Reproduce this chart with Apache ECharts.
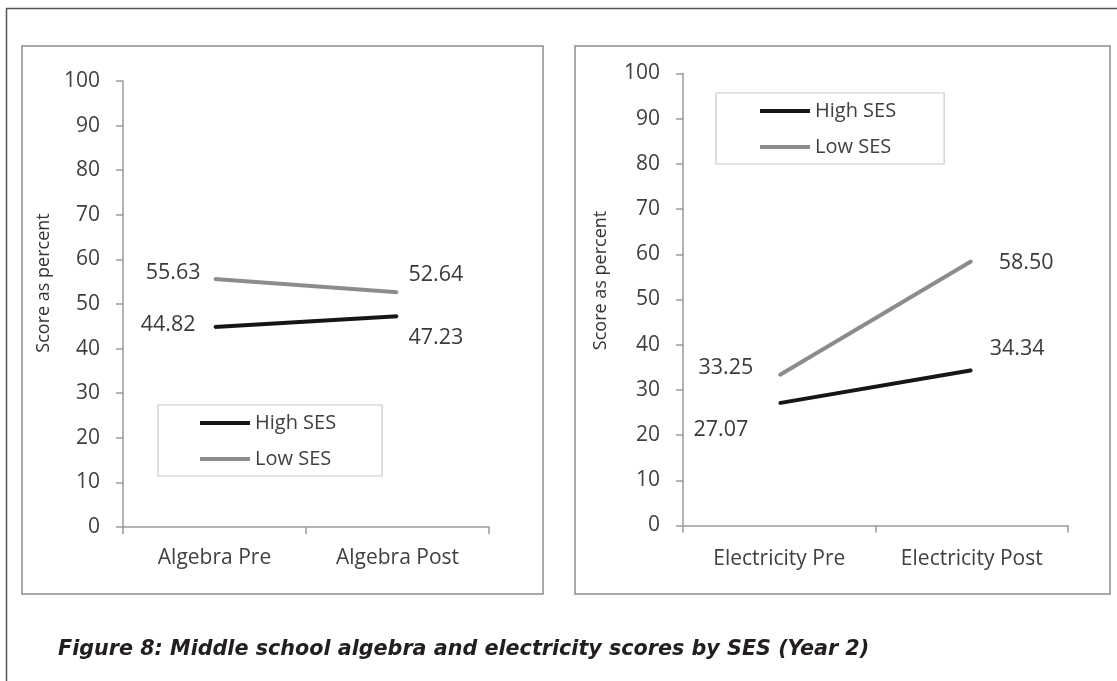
<!DOCTYPE html>
<html>
<head>
<meta charset="utf-8">
<script src="https://cdn.jsdelivr.net/npm/echarts@6/dist/echarts.min.js"></script>
<style>
html,body{margin:0;padding:0;background:#fff;}
#chart{width:1117px;height:681px;}
</style>
</head>
<body>
<div id="chart"></div>
<script>
// ---- data ----
const categoriesAlgebra = ['Algebra Pre', 'Algebra Post'];
const categoriesElectricity = ['Electricity Pre', 'Electricity Post'];
const seriesNames = ['High SES', 'Low SES'];
const algebraHigh = [44.82, 47.23];
const algebraLow = [55.63, 52.64];
const electricityHigh = [27.07, 34.34];
const electricityLow = [33.25, 58.50];
const yMin = 0, yMax = 100, yStep = 10;
const axisTitle = 'Score as percent';
const caption = 'Figure 8: Middle school algebra and electricity scores by SES (Year 2)';

// ---- label placement (style) ----
const placeAlgebraHigh = [['left', 18, -2], ['right', 10, 22]];
const placeAlgebraLow = [['left', 13, -6], ['right', 10, -17]];
const placeElecHigh = [['left', 30, 27], ['right', 17, -21]];
const placeElecLow = [['left', 25, -7], ['right', 26, 2]];

const FONT = 'Open Sans';
const HIGH_COLOR = '#161616';
const LOW_COLOR = '#8c8c8c';

function buildData(values, places) {
  return values.map((v, i) => ({
    value: v,
    label: {
      show: true,
      position: places[i][0],
      distance: places[i][1],
      offset: [0, places[i][2]],
      formatter: (p) => Number(p.value).toFixed(2),
      fontFamily: FONT,
      fontSize: 21.5,
      color: '#3a3a3a'
    }
  }));
}

function lineSeries(name, values, places, idx, color) {
  return {
    name: name,
    type: 'line',
    xAxisIndex: idx,
    yAxisIndex: idx,
    data: buildData(values, places),
    symbol: 'circle',
    symbolSize: 2,
    showSymbol: true,
    itemStyle: { color: color },
    lineStyle: { color: color, width: 4 },
    emphasis: { disabled: true },
    z: 3
  };
}

function xAx(cats, idx, margin) {
  return {
    type: 'category',
    gridIndex: idx,
    data: cats,
    boundaryGap: true,
    axisLine: { lineStyle: { color: '#9a9a9a', width: 1.5 } },
    axisTick: { show: true, length: 7, lineStyle: { color: '#9a9a9a', width: 1.5 } },
    axisLabel: { fontFamily: FONT, fontSize: 21, color: '#404040', margin: margin },
    splitLine: { show: false }
  };
}

function yAx(idx, gap, pad) {
  return {
    type: 'value',
    gridIndex: idx,
    min: yMin, max: yMax, interval: yStep,
    name: axisTitle,
    nameLocation: 'middle',
    nameGap: gap,
    nameTextStyle: { fontFamily: FONT, fontSize: 18, color: '#333', padding: pad },
    axisLine: { show: true, lineStyle: { color: '#9a9a9a', width: 1.5 } },
    axisTick: { show: true, length: 7, lineStyle: { color: '#9a9a9a', width: 1.5 } },
    axisLabel: { fontFamily: FONT, fontSize: 21, color: '#404040', margin: 23 },
    splitLine: { show: false }
  };
}

function legendAt(left, top, pad) {
  return {
    orient: 'vertical',
    left: left, top: top,
    data: seriesNames,
    icon: 'rect',
    itemWidth: 50,
    itemHeight: 4,
    itemGap: 16,
    padding: pad,
    borderColor: '#c8c8c8',
    borderWidth: 1.2,
    textStyle: { fontFamily: FONT, fontSize: 20, color: '#404040' },
    selectedMode: false
  };
}

const chart = echarts.init(document.getElementById('chart'), null, { renderer: 'canvas' });
chart.setOption({
  animation: false,
  backgroundColor: '#fff',
  title: {
    text: caption,
    left: 53, top: 634,
    textStyle: { fontFamily: 'DejaVu Sans', fontSize: 20.7, fontWeight: 'bold', fontStyle: 'italic', color: '#231f20' }
  },
  graphic: [
    { type: 'line', shape: { x1: 6.5, y1: 8, x2: 6.5, y2: 681 }, style: { stroke: '#555', lineWidth: 1.5 } },
    { type: 'line', shape: { x1: 6, y1: 8.5, x2: 1117, y2: 8.5 }, style: { stroke: '#555', lineWidth: 1.5 } },
    { type: 'rect', shape: { x: 22, y: 46, width: 521, height: 548 }, style: { fill: 'none', stroke: '#8c8c8c', lineWidth: 1.5 } },
    { type: 'rect', shape: { x: 575, y: 46, width: 535, height: 548 }, style: { fill: 'none', stroke: '#8c8c8c', lineWidth: 1.5 } }
  ],
  grid: [
    { left: 123, top: 81, width: 366, height: 446 },
    { left: 683, top: 73.5, width: 385, height: 452 }
  ],
  xAxis: [xAx(categoriesAlgebra, 0, 21), xAx(categoriesElectricity, 1, 23)],
  yAxis: [yAx(0, 70, [0, 0, 0, 42]), yAx(1, 73, [0, 0, 0, 38])],
  legend: [legendAt(158, 405, [8, 46, 7, 42]), legendAt(716, 93, [8, 48, 7, 44])],
  series: [
    lineSeries(seriesNames[0], algebraHigh, placeAlgebraHigh, 0, HIGH_COLOR),
    lineSeries(seriesNames[1], algebraLow, placeAlgebraLow, 0, LOW_COLOR),
    lineSeries(seriesNames[0], electricityHigh, placeElecHigh, 1, HIGH_COLOR),
    lineSeries(seriesNames[1], electricityLow, placeElecLow, 1, LOW_COLOR)
  ]
});
</script>
</body>
</html>
